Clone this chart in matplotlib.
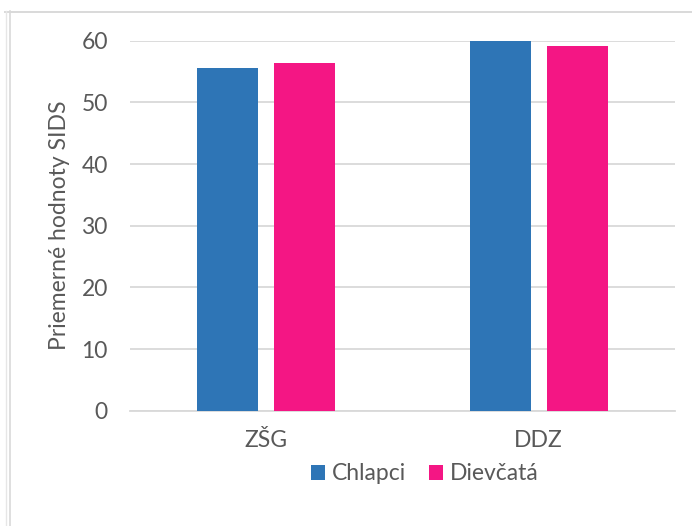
import matplotlib
matplotlib.use("Agg")
import matplotlib.pyplot as plt
from matplotlib.lines import Line2D
import numpy as np

categories = ["ZŠG", "DDZ"]
series_names = ["Chlapci", "Dievčatá"]
chlapci = [55.5, 60.0]
dievcata = [56.4, 59.2]
yticks = [0, 10, 20, 30, 40, 50, 60]
ylabel = "Priemerné hodnoty SIDS"

colors = ["#2E75B6", "#F41684"]
text_color = "#595959"
grid_color = "#D9D9D9"

plt.rcParams["font.family"] = ["Lato", "DejaVu Sans"]
FS = 16.5

W, H = 692, 526
fig = plt.figure(figsize=(W / 100, H / 100), dpi=100)
ax = fig.add_axes([130 / W, 1 - 410.7 / H, 545 / W, 370 / H])

x = np.arange(len(categories))
bw = 0.224
off = 0.142
ax.bar(x - off, chlapci, width=bw, color=colors[0], label=series_names[0], zorder=3, clip_on=False)
ax.bar(x + off, dievcata, width=bw, color=colors[1], label=series_names[1], zorder=3, clip_on=False)

ax.set_xlim(-0.5, 1.5)
ax.set_ylim(0, 60)
ax.set_yticks(yticks)
ax.set_yticklabels([str(v) for v in yticks])
ax.set_xticks(x)
ax.set_xticklabels(categories)
ax.yaxis.grid(True, color=grid_color, linewidth=1.3, zorder=0)
ax.set_axisbelow(True)
for s in ["top", "right", "left"]:
    ax.spines[s].set_visible(False)
ax.spines["bottom"].set_color(grid_color)
ax.spines["bottom"].set_linewidth(1.3)
ax.tick_params(axis="both", length=0, labelsize=FS, labelcolor=text_color)
ax.tick_params(axis="y", pad=16)
ax.tick_params(axis="x", pad=14)
ax.set_ylabel(ylabel, fontsize=FS, color=text_color, labelpad=8)

leg = fig.legend(loc="center", bbox_to_anchor=(425 / W, 1 - 474 / H), ncol=2, frameon=False,
                 fontsize=FS, handlelength=0.6, handleheight=0.6, handletextpad=0.3,
                 columnspacing=1.0, labelcolor=text_color)

# outer frame decorations
fig.add_artist(Line2D([5 / W, 1], [1 - 11.5 / H] * 2, transform=fig.transFigure, color=grid_color, linewidth=1.4))
fig.add_artist(Line2D([5.5 / W] * 2, [0, 1 - 11 / H], transform=fig.transFigure, color="#E6E6E6", linewidth=1.0))
fig.add_artist(Line2D([9.5 / W] * 2, [0, 1 - 11 / H], transform=fig.transFigure, color=grid_color, linewidth=1.2))

fig.savefig("out.png", dpi=100)
